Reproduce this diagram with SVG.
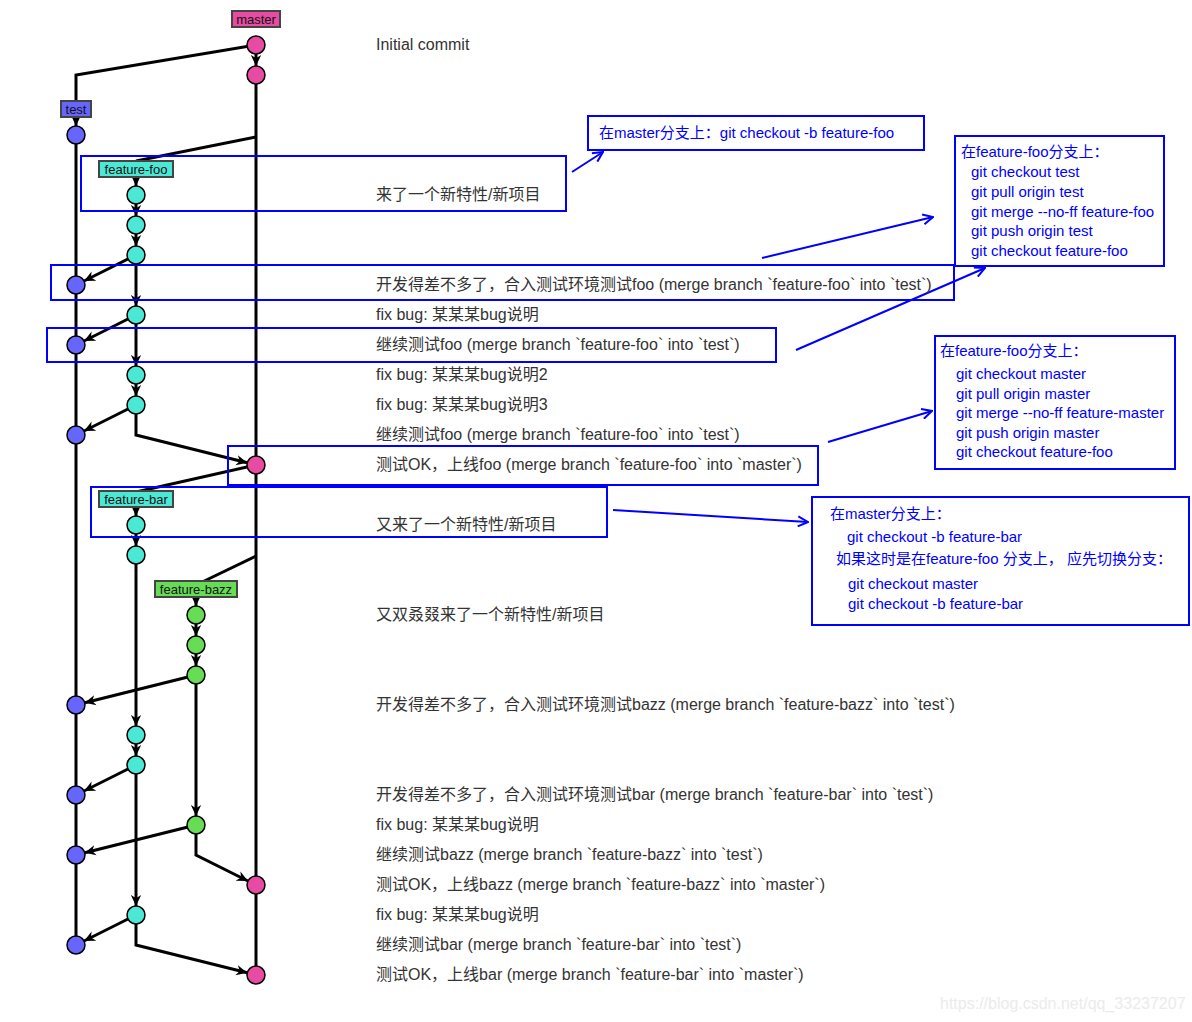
<svg xmlns="http://www.w3.org/2000/svg" width="1192" height="1022" viewBox="0 0 1192 1022">
<style>
.edge{fill:none;stroke:#000;stroke-width:3}
.arr{marker-end:url(#ah)}
.commit{stroke:#000;stroke-width:1.5}
.cm{fill:#e84ba2}
.ct{fill:#6666ff}
.cf{fill:#4ce8d6}
.cz{fill:#66dd55}
.lbl{stroke:#444;stroke-width:2}
.lt{font-family:"Liberation Sans",Arial,sans-serif;font-size:13px;fill:#111;text-anchor:middle}
.row{font-family:"Liberation Sans","Noto Sans CJK SC",sans-serif;font-size:16px;fill:#333}
.hl{fill:none;stroke:#0000ff;stroke-width:2}
.note{fill:#fff;stroke:#0000ff;stroke-width:2}
.nt{font-family:"Liberation Sans","Noto Sans CJK SC",sans-serif;font-size:15px;fill:#0000ff}
.barr{fill:none;stroke:#0000ff;stroke-width:2;marker-end:url(#oa)}
.wm{font-family:"Liberation Sans",Arial,sans-serif;font-size:16px;fill:#ebebeb}
</style>
<defs>
<marker id="ah" viewBox="0 0 10 10" refX="10" refY="5" markerWidth="11" markerHeight="11" markerUnits="userSpaceOnUse" orient="auto"><path d="M0,0.3 L10,5 L0,9.7 L3,5 Z" fill="#000"/></marker>
<marker id="oa" viewBox="0 0 12 12" refX="11" refY="6" markerWidth="12" markerHeight="12" markerUnits="userSpaceOnUse" orient="auto"><path d="M1,1 L11,6 L1,11" fill="none" stroke="#0000ff" stroke-width="2"/></marker>
</defs>
<rect width="1192" height="1022" fill="#fff"/>

<g id="connectors">
<path class="edge" d="M256,45 L76,75 L76,101"/>
<path class="edge arr" d="M256,54 L256,66"/>
<path class="edge arr" d="M76,117 L76,126"/>
<path class="edge" d="M76,135 L76,945"/>
<path class="edge" d="M256,75 L256,975"/>
<path class="edge" d="M256,137 L136,161"/>
<path class="edge arr" d="M136,177 L136,186"/>
<path class="edge arr" d="M136,195 L136,216"/>
<path class="edge arr" d="M136,225 L136,246"/>
<path class="edge arr" d="M136,255 L84.05,280.98"/>
<path class="edge arr" d="M136,255 L136,306"/>
<path class="edge arr" d="M136,315 L84.05,340.98"/>
<path class="edge arr" d="M136,315 L136,366"/>
<path class="edge arr" d="M136,375 L136,396"/>
<path class="edge arr" d="M136,405 L84.05,430.98"/>
<path class="edge arr" d="M136,405 L136,435 L247.27,462.82"/>
<path class="edge" d="M256,465 L136,492"/>
<path class="edge arr" d="M136,507 L136,516"/>
<path class="edge arr" d="M136,525 L136,546"/>
<path class="edge arr" d="M136,555 L136,726"/>
<path class="edge arr" d="M136,735 L136,756"/>
<path class="edge arr" d="M136,765 L84.05,790.98"/>
<path class="edge arr" d="M136,765 L136,906"/>
<path class="edge arr" d="M136,915 L84.05,940.98"/>
<path class="edge arr" d="M136,915 L136,945 L247.27,972.82"/>
<path class="edge" d="M256,556 L196,585"/>
<path class="edge arr" d="M196,597 L196,606"/>
<path class="edge arr" d="M196,615 L196,636"/>
<path class="edge arr" d="M196,645 L196,666"/>
<path class="edge arr" d="M196,675 L84.73,702.82"/>
<path class="edge arr" d="M196,675 L196,816"/>
<path class="edge arr" d="M196,825 L84.73,852.82"/>
<path class="edge arr" d="M196,825 L196,855 L247.95,880.98"/>
<path class="barr" d="M572,172 L603,152"/>
<path class="barr" d="M762,258 L933,217"/>
<path class="barr" d="M796,350 L985,268"/>
<path class="barr" d="M828,442 L932,411"/>
<path class="barr" d="M613,510 L808,522"/>
</g>

<g id="highlights">
<rect class="hl" x="81" y="156" width="485" height="55"/>
<rect class="hl" x="51" y="265" width="903" height="35"/>
<rect class="hl" x="47" y="328" width="729" height="34"/>
<rect class="hl" x="228" y="446" width="590" height="39"/>
<rect class="hl" x="91" y="487" width="516" height="50"/>
</g>

<g id="label-master"><rect class="lbl cm" x="232" y="11" width="48" height="16"/><text class="lt" x="256" y="23.5">master</text></g>
<g id="label-test"><rect class="lbl ct" x="61" y="101" width="30" height="16"/><text class="lt" x="76" y="113.5">test</text></g>
<g id="label-feature-foo"><rect class="lbl cf" x="99" y="161" width="74" height="16"/><text class="lt" x="136" y="173.5">feature-foo</text></g>
<g id="label-feature-bar"><rect class="lbl cf" x="99" y="491" width="74" height="16"/><text class="lt" x="136" y="503.5">feature-bar</text></g>
<g id="label-feature-bazz"><rect class="lbl cz" x="155" y="581" width="82" height="16"/><text class="lt" x="196" y="593.5">feature-bazz</text></g>

<g id="commits-master">
<circle class="commit cm" cx="256" cy="45" r="9"/>
<circle class="commit cm" cx="256" cy="75" r="9"/>
<circle class="commit cm" cx="256" cy="465" r="9"/>
<circle class="commit cm" cx="256" cy="885" r="9"/>
<circle class="commit cm" cx="256" cy="975" r="9"/>
</g>
<g id="commits-test">
<circle class="commit ct" cx="76" cy="135" r="9"/>
<circle class="commit ct" cx="76" cy="285" r="9"/>
<circle class="commit ct" cx="76" cy="345" r="9"/>
<circle class="commit ct" cx="76" cy="435" r="9"/>
<circle class="commit ct" cx="76" cy="705" r="9"/>
<circle class="commit ct" cx="76" cy="795" r="9"/>
<circle class="commit ct" cx="76" cy="855" r="9"/>
<circle class="commit ct" cx="76" cy="945" r="9"/>
</g>
<g id="commits-feature-foo">
<circle class="commit cf" cx="136" cy="195" r="9"/>
<circle class="commit cf" cx="136" cy="225" r="9"/>
<circle class="commit cf" cx="136" cy="255" r="9"/>
<circle class="commit cf" cx="136" cy="315" r="9"/>
<circle class="commit cf" cx="136" cy="375" r="9"/>
<circle class="commit cf" cx="136" cy="405" r="9"/>
</g>
<g id="commits-feature-bar">
<circle class="commit cf" cx="136" cy="525" r="9"/>
<circle class="commit cf" cx="136" cy="555" r="9"/>
<circle class="commit cf" cx="136" cy="735" r="9"/>
<circle class="commit cf" cx="136" cy="765" r="9"/>
<circle class="commit cf" cx="136" cy="915" r="9"/>
</g>
<g id="commits-feature-bazz">
<circle class="commit cz" cx="196" cy="615" r="9"/>
<circle class="commit cz" cx="196" cy="645" r="9"/>
<circle class="commit cz" cx="196" cy="675" r="9"/>
<circle class="commit cz" cx="196" cy="825" r="9"/>
</g>

<g id="descriptions">
<text class="row" x="376" y="50">Initial commit</text>
<text class="row" x="376" y="200">来了一个新特性/新项目</text>
<text class="row" x="376" y="290">开发得差不多了，合入测试环境测试foo (merge branch `feature-foo` into `test`)</text>
<text class="row" x="376" y="320">fix bug: 某某某bug说明</text>
<text class="row" x="376" y="350">继续测试foo (merge branch `feature-foo` into `test`)</text>
<text class="row" x="376" y="380">fix bug: 某某某bug说明2</text>
<text class="row" x="376" y="410">fix bug: 某某某bug说明3</text>
<text class="row" x="376" y="440">继续测试foo (merge branch `feature-foo` into `test`)</text>
<text class="row" x="376" y="470">测试OK，上线foo (merge branch `feature-foo` into `master`)</text>
<text class="row" x="376" y="530">又来了一个新特性/新项目</text>
<text class="row" x="376" y="620">又双叒叕来了一个新特性/新项目</text>
<text class="row" x="376" y="710">开发得差不多了，合入测试环境测试bazz (merge branch `feature-bazz` into `test`)</text>
<text class="row" x="376" y="800">开发得差不多了，合入测试环境测试bar (merge branch `feature-bar` into `test`)</text>
<text class="row" x="376" y="830">fix bug: 某某某bug说明</text>
<text class="row" x="376" y="860">继续测试bazz (merge branch `feature-bazz` into `test`)</text>
<text class="row" x="376" y="890">测试OK，上线bazz (merge branch `feature-bazz` into `master`)</text>
<text class="row" x="376" y="920">fix bug: 某某某bug说明</text>
<text class="row" x="376" y="950">继续测试bar (merge branch `feature-bar` into `test`)</text>
<text class="row" x="376" y="980">测试OK，上线bar (merge branch `feature-bar` into `master`)</text>
</g>

<g id="note-create-foo">
<rect class="note" x="588" y="116" width="336" height="34"/>
<text class="nt" x="599" y="138">在master分支上：git checkout -b feature-foo</text>
</g>
<g id="note-merge-test">
<rect class="note" x="955" y="136" width="209" height="130"/>
<text class="nt" x="961" y="157">在feature-foo分支上：</text>
<text class="nt" x="971" y="177">git checkout test</text>
<text class="nt" x="971" y="197">git pull origin test</text>
<text class="nt" x="971" y="217">git merge --no-ff feature-foo</text>
<text class="nt" x="971" y="236">git push origin test</text>
<text class="nt" x="971" y="256">git checkout feature-foo</text>
</g>
<g id="note-merge-master">
<rect class="note" x="935" y="336" width="240" height="133"/>
<text class="nt" x="940" y="356">在feature-foo分支上：</text>
<text class="nt" x="956" y="379">git checkout master</text>
<text class="nt" x="956" y="399">git pull origin master</text>
<text class="nt" x="956" y="418">git merge --no-ff feature-master</text>
<text class="nt" x="956" y="438">git push origin master</text>
<text class="nt" x="956" y="457">git checkout feature-foo</text>
</g>
<g id="note-create-bar">
<rect class="note" x="812" y="497" width="377" height="128"/>
<text class="nt" x="830" y="519">在master分支上：</text>
<text class="nt" x="847" y="542">git checkout -b feature-bar</text>
<text class="nt" x="836" y="564">如果这时是在feature-foo 分支上， 应先切换分支：</text>
<text class="nt" x="848" y="589">git checkout master</text>
<text class="nt" x="848" y="609">git checkout -b feature-bar</text>
</g>

<text class="wm" x="940" y="1009">https://blog.csdn.net/qq_33237207</text>
</svg>
